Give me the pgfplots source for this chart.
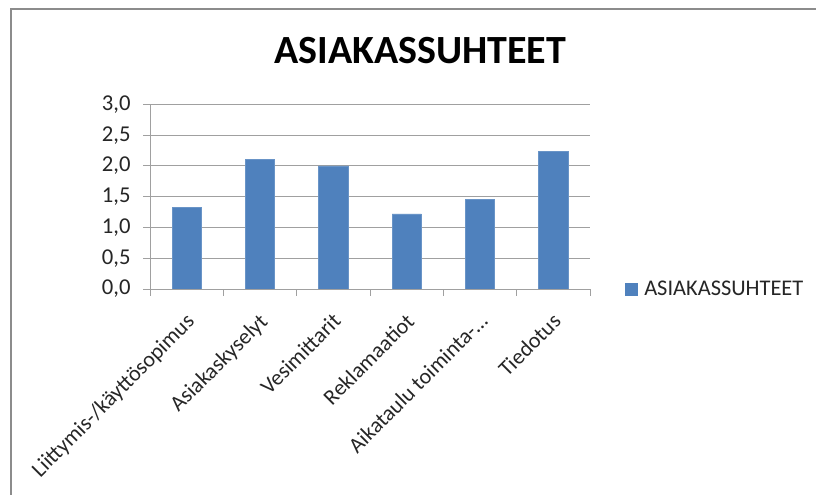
\documentclass[border=0pt]{standalone}
\usepackage{pgfplots}
\pgfplotsset{compat=1.18}
\usepackage{fontspec}
\setmainfont{Carlito}
\definecolor{barblue}{HTML}{4F81BD}
\definecolor{gridgray}{HTML}{A0A0A0}
\definecolor{framegray}{HTML}{8C8C8C}
\begin{document}
\begin{tikzpicture}[x=0.75pt,y=0.75pt]
\useasboundingbox (0,0) rectangle (816,495);
\fill[white] (0,0) rectangle (816,495);
\draw[framegray, line width=1.5pt] (11,0) -- (11,485.5) -- (816,485.5);
\begin{axis}[
  at={(112.5pt,154.5pt)}, anchor=south west,
  scale only axis,
  width=330pt, height=138.5pt,
  xmin=-0.5, xmax=5.5,
  ymin=0, ymax=3,
  ytick={0,0.5,...,3},
  ymajorgrids,
  grid style={gridgray, line width=0.6pt},
  axis x line*=bottom,
  axis y line*=left,
  axis line style={gridgray, line width=0.6pt, -},
  xtick={0,1,2,3,4,5},
  major x tick style={draw=none},
  minor xtick={-0.5,0.5,1.5,2.5,3.5,4.5,5.5},
  minor x tick style={gridgray, line width=0.6pt},
  minor tick length=5pt,
  major tick length=5pt,
  tick align=outside,
  y tick style={gridgray, line width=0.6pt},
  xticklabels={Liittymis-/käyttösopimus, Asiakaskyselyt, Vesimittarit, Reklamaatiot, Aikataulu toiminta-\ldots, Tiedotus},
  xticklabel style={font=\fontsize{16.5}{18}\selectfont, text=black!85, yshift=-12pt, xshift=-1.5pt, rotate=45, anchor=north east, inner sep=0pt},
  yticklabel style={font=\fontsize{17}{18}\selectfont, text=black!85, xshift=-6pt},
  /pgf/number format/.cd, fixed, fixed zerofill, precision=1, use comma, assume math mode=true,
  /pgfplots/.cd,
  ybar, bar width=0.4,
  title={ASIAKASSUHTEET},
  title style={font=\fontsize{30}{34}\bfseries\selectfont, at={(0.614,1.25)}, anchor=center},
  legend style={draw=none, at={(1.07,0)}, anchor=west, font=\fontsize{16.8}{18}\selectfont, text=black!85, /tikz/every even column/.append style={column sep=0pt}},
  legend image code/.code={\fill[barblue] (0pt,-4.5pt) rectangle (9pt,4.5pt);},
  legend cell align=left,
]
\addplot[fill=barblue, draw=barblue!85!white] coordinates {(0,1.32) (1,2.10) (2,2.00) (3,1.22) (4,1.45) (5,2.23)};
\addlegendentry{\hspace{3pt}ASIAKASSUHTEET}
\end{axis}
\end{tikzpicture}
\end{document}
